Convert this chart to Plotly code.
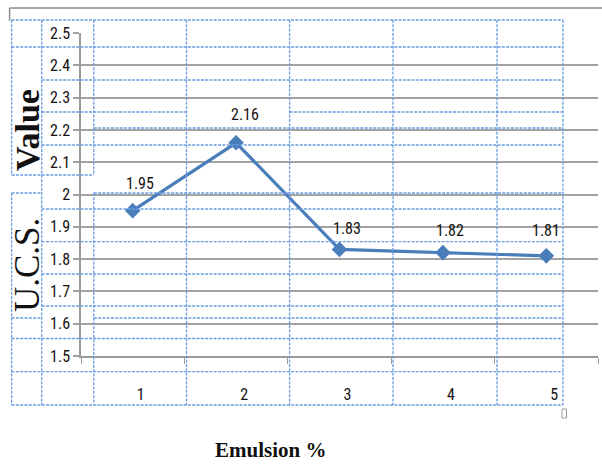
import plotly.graph_objects as go

# U.C.S. value against emulsion content
emulsion_pct = ["1", "2", "3", "4", "5"]
ucs_value = [1.95, 2.16, 1.83, 1.82, 1.81]
value_labels = ["1.95", "2.16", "1.83", "1.82", "1.81"]
y_ticks = [1.5, 1.6, 1.7, 1.8, 1.9, 2.0, 2.1, 2.2, 2.3, 2.4, 2.5]

# label placement (pixels above / right of each point)
label_yshift = [27, 28, 21, 22, 25]
label_xshift = [7, 9, 7, 7, 0]

W, H = 602, 464
ML, MR, MT, MB = 81, 4, 33, 108
PW, PH = W - ML - MR, H - MT - MB

NUM_FONT = "Liberation Sans Narrow, Roboto Condensed, DejaVu Sans Condensed, Arial Narrow, sans-serif"
SERIF = "Liberation Serif, Times New Roman, serif"
LINE_BLUE = "#4a7ebb"
GRID = "#a3a3a3"
TABLE_BLUE = "#6a9ce3"
TEXT = "#161212"


def px(x):
    return (x - ML) / PW


def py(y):
    return (H - MB - y) / PH


fig = go.Figure()
fig.add_trace(go.Scatter(
    x=emulsion_pct, y=ucs_value, mode="lines+markers",
    line=dict(color=LINE_BLUE, width=3.2),
    marker=dict(symbol="diamond", size=12, color=LINE_BLUE),
    hoverinfo="x+y", showlegend=False,
))

annotations = []
# category axis: annotation x is the category's position index
for i, (yv, txt, dy, dx) in enumerate(zip(ucs_value, value_labels, label_yshift, label_xshift)):
    annotations.append(dict(
        x=i, y=yv, xref="x", yref="y", text=txt, showarrow=False,
        xanchor="center", yanchor="middle",
        yshift=dy, xshift=dx, font=dict(family=NUM_FONT, size=16, color=TEXT),
    ))

# axis titles
annotations += [
    dict(x=px(27), y=py(130), xref="paper", yref="paper", text="<b>Value</b>",
         textangle=-90, showarrow=False, xanchor="center", yanchor="middle",
         font=dict(family=SERIF, size=34, color="#111")),
    dict(x=px(27), y=py(265), xref="paper", yref="paper", text="U.C.S.",
         textangle=-90, showarrow=False, xanchor="center", yanchor="middle",
         font=dict(family=SERIF, size=35, color="#111")),
    dict(x=px(270), y=py(450), xref="paper", yref="paper", text="<b>Emulsion %</b>",
         showarrow=False, xanchor="center", yanchor="middle",
         font=dict(family=SERIF, size=21, color="#111")),
]

shapes = []


def seg(x0, y0, x1, y1, color, width, dash="solid"):
    shapes.append(dict(type="line", xref="paper", yref="paper",
                       x0=px(x0), y0=py(y0), x1=px(x1), y1=py(y1),
                       line=dict(color=color, width=width, dash=dash), layer="above"))


# chart frame (top edge)
seg(9.6, 8, 602, 8, "#8c8c8c", 1.5)
seg(9.6, 8, 9.6, 20.7, "#8c8c8c", 1.5)

# dashed table grid over the chart
C0, C1, C2, C3, C4, C5, C6, C7 = 11.6, 41.7, 93.8, 186.5, 289.6, 393, 497, 563
h_rules = [
    (20, C0, C7), (47, C0, C7), (80, C1, C7),
    (112, C1, C3), (112, C4, C7), (128, C2, C7), (145, C1, C7),
    (175, C0, C2), (193, C0, C1), (193, C2, C7),
    (209, C1, C7), (241.7, C1, C7), (274, C1, C7), (306, C1, C7),
    (318, C0, C1), (318, C2, C7), (338.5, C0, C7), (371.7, C0, C7), (405, C0, C7),
]
v_rules = [
    (C0, 20, 175), (C0, 193, 405), (C1, 20, 405),
    (C2, 20, 175), (C2, 193, 405),
    (C3, 20, 405), (C4, 20, 405), (C5, 20, 405), (C6, 20, 405), (C7, 20, 405),
]
for y, a, b in h_rules:
    seg(a, y, b, y, TABLE_BLUE, 1.3, "3px,1.3px")
for x, a, b in v_rules:
    seg(x, a, x, b, TABLE_BLUE, 1.3, "3px,1.3px")

# small handle square at the table corner
shapes.append(dict(type="rect", xref="paper", yref="paper",
                   x0=px(562), y0=py(418), x1=px(566.5), y1=py(409),
                   line=dict(color="#9a9a9a", width=1), fillcolor="white", layer="above"))

fig.update_layout(
    width=W, height=H,
    margin=dict(l=ML, r=MR, t=MT, b=MB),
    paper_bgcolor="white", plot_bgcolor="white",
    annotations=annotations, shapes=shapes,
    xaxis=dict(
        type="category", categoryorder="array", categoryarray=emulsion_pct,
        range=[-0.5, 4.5], tickson="boundaries",
        ticks="outside", ticklen=6, tickcolor="#9a9a9a", tickwidth=1,
        showline=True, linecolor="#9a9a9a", linewidth=1.5,
        showgrid=False, zeroline=False,
        ticklabelstandoff=23, ticklabelshift=8,
        tickfont=dict(family=NUM_FONT, size=16, color=TEXT),
    ),
    yaxis=dict(
        range=[1.5, 2.5], tickvals=y_ticks,
        ticktext=[f"{v:g}" for v in y_ticks],
        ticks="outside", ticklen=6, tickcolor=GRID, tickwidth=2,
        showline=True, linecolor="#9a9a9a", linewidth=1.5,
        showgrid=True, gridcolor=GRID, gridwidth=2, zeroline=False,
        tickfont=dict(family=NUM_FONT, size=16, color=TEXT),
    ),
)

fig.write_html("out.html")
